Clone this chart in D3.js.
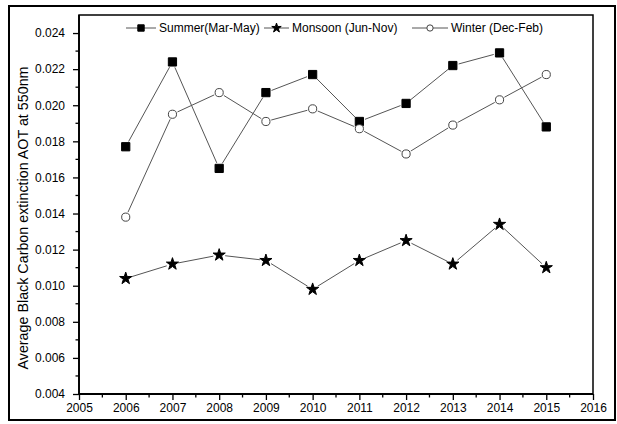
<!DOCTYPE html>
<html>
<head>
<meta charset="utf-8">
<script src="https://cdn.jsdelivr.net/npm/d3@7"></script>
<style>
  html, body { margin: 0; padding: 0; background: #fff; }
  svg { display: block; font-family: "Liberation Sans", Arial, sans-serif; }
</style>
</head>
<body>
<svg id="chart" width="617" height="424"></svg>
<script>
// Seasonal black carbon extinction AOT at 550 nm, 2006-2015
const years = [2006, 2007, 2008, 2009, 2010, 2011, 2012, 2013, 2014, 2015];
const summer  = [0.0177, 0.0224, 0.0165, 0.0207, 0.0217, 0.0191, 0.0201, 0.0222, 0.0229, 0.0188];
const monsoon = [0.0104, 0.0112, 0.0117, 0.0114, 0.0098, 0.0114, 0.0125, 0.0112, 0.0134, 0.0110];
const winter  = [0.0138, 0.0195, 0.0207, 0.0191, 0.0198, 0.0187, 0.0173, 0.0189, 0.0203, 0.0217];
const seriesNames = ["Summer(Mar-May)", "Monsoon (Jun-Nov)", "Winter (Dec-Feb)"];
const xTicks = [2005, 2006, 2007, 2008, 2009, 2010, 2011, 2012, 2013, 2014, 2015, 2016];
const yTicks = [0.004, 0.006, 0.008, 0.010, 0.012, 0.014, 0.016, 0.018, 0.020, 0.022, 0.024];
const yTitle = "Average Black Carbon extinction AOT at 550nm";

(function () {
const svg = d3.select("#chart");
const pL = 79, pR = 593, pT = 15, pB = 394;

const x = d3.scaleLinear().domain([2005, 2016]).range([pL, pR]);
const y = d3.scaleLinear().domain([0.004, 0.025]).range([pB, pT]);

// outer frame
svg.append("rect")
  .attr("x", 9).attr("y", 6).attr("width", 606).attr("height", 414)
  .attr("fill", "none").attr("stroke", "#000").attr("stroke-width", 2);

// plot box
svg.append("rect")
  .attr("x", pL).attr("y", pT).attr("width", pR - pL).attr("height", pB - pT)
  .attr("fill", "none").attr("stroke", "#000").attr("stroke-width", 1.5);

// minor ticks
const xMinor = d3.range(2005.5, 2016, 1);
const yMinor = d3.range(0.005, 0.025, 0.002);

const xAxis = d3.axisBottom(x).tickValues(xTicks).tickFormat(d3.format("d"))
  .tickSize(6).tickPadding(3).tickSizeOuter(0);
const gx = svg.append("g").attr("transform", `translate(0,${pB})`).call(xAxis);
gx.select(".domain").remove();
gx.selectAll(".tick line").attr("stroke-width", 1.3);
gx.selectAll("text").attr("font-size", 12).attr("fill", "#000")
  .attr("font-family", "Liberation Sans, Arial, sans-serif");
gx.selectAll(".minor").data(xMinor).enter().append("line")
  .attr("class", "minor")
  .attr("x1", d => x(d)).attr("x2", d => x(d))
  .attr("y1", 0).attr("y2", 3.5)
  .attr("stroke", "#000").attr("stroke-width", 1.3);

const yAxis = d3.axisLeft(y).tickValues(yTicks).tickFormat(d3.format(".3f"))
  .tickSize(6).tickPadding(8).tickSizeOuter(0);
const gy = svg.append("g").attr("transform", `translate(${pL},0)`).call(yAxis);
gy.select(".domain").remove();
gy.selectAll(".tick line").attr("stroke-width", 1.3);
gy.selectAll("text").attr("font-size", 12).attr("fill", "#000")
  .attr("font-family", "Liberation Sans, Arial, sans-serif");
gy.selectAll(".minor").data(yMinor).enter().append("line")
  .attr("class", "minor")
  .attr("x1", 0).attr("x2", -3.5)
  .attr("y1", d => y(d)).attr("y2", d => y(d))
  .attr("stroke", "#000").attr("stroke-width", 1.3);

// axis lines drawn on top of the box
svg.append("line").attr("x1", pL).attr("x2", pL).attr("y1", pT).attr("y2", pB + 0.5)
  .attr("stroke", "#000").attr("stroke-width", 1.8);
svg.append("line").attr("x1", pL).attr("x2", pR).attr("y1", pB).attr("y2", pB)
  .attr("stroke", "#000").attr("stroke-width", 1.8);

// y-axis title
svg.append("text")
  .attr("transform", `translate(23,218) rotate(-90)`)
  .attr("text-anchor", "middle")
  .attr("dy", "0.35em")
  .attr("font-size", 14.3)
  .attr("fill", "#000")
  .text(yTitle);

// marker shapes
const markers = [
  { type: d3.symbolSquare, size: 68, fill: "#000", stroke: "#000", gap: 6 },
  { type: d3.symbolStar, size: 46, fill: "#000", stroke: "#000", gap: 6 },
  { type: d3.symbolCircle, size: 52, fill: "#fff", stroke: "#444", gap: 5.5 }
];
const series = [summer, monsoon, winter];

// connecting segments stop short of each marker
function drawSeries(values, m) {
  const pts = years.map((yr, i) => [x(yr), y(values[i])]);
  const g = svg.append("g");
  for (let i = 0; i < pts.length - 1; i++) {
    const [x0, y0] = pts[i], [x1, y1] = pts[i + 1];
    const dx = x1 - x0, dy = y1 - y0, len = Math.hypot(dx, dy);
    const ux = dx / len, uy = dy / len;
    g.append("line")
      .attr("x1", x0 + ux * m.gap).attr("y1", y0 + uy * m.gap)
      .attr("x2", x1 - ux * m.gap).attr("y2", y1 - uy * m.gap)
      .attr("stroke", "#555").attr("stroke-width", 1);
  }
  g.selectAll("path").data(pts).enter().append("path")
    .attr("transform", d => `translate(${d[0]},${d[1]})`)
    .attr("d", d3.symbol().type(m.type).size(m.size))
    .attr("fill", m.fill).attr("stroke", m.stroke).attr("stroke-width", 1);
}
series.forEach((s, i) => drawSeries(s, markers[i]));

// legend
const legendY = 28;
const legendItems = [
  { lx: 126, tx: 159 },
  { lx: 264, tx: 292 },
  { lx: 412, tx: 451 }
];
legendItems.forEach((it, i) => {
  const m = markers[i];
  const lineEnd = it.tx - 3;
  const mid = (it.lx + lineEnd) / 2;
  svg.append("line").attr("x1", it.lx).attr("x2", lineEnd)
    .attr("y1", legendY).attr("y2", legendY)
    .attr("stroke", "#555").attr("stroke-width", 1);
  svg.append("path")
    .attr("transform", `translate(${mid},${legendY})`)
    .attr("d", d3.symbol().type(m.type).size(m.size * 0.6))
    .attr("fill", m.fill).attr("stroke", m.stroke).attr("stroke-width", 1);
  svg.append("text")
    .attr("x", it.tx).attr("y", legendY)
    .attr("dy", "0.35em")
    .attr("font-size", 12)
    .attr("fill", "#000")
    .text(seriesNames[i]);
});
})();
</script>
</body>
</html>
